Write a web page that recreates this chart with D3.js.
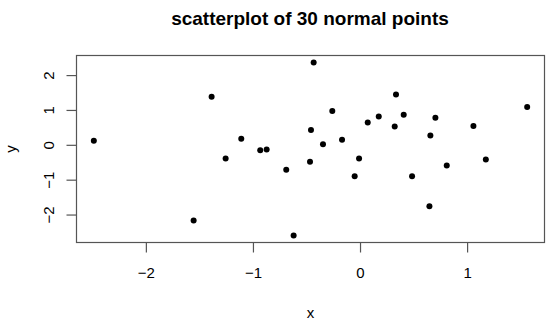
<!DOCTYPE html>
<html>
<head>
<meta charset="utf-8">
<script src="https://cdn.jsdelivr.net/npm/d3@7"></script>
<style>
  body { margin: 0; background: #fff; }
  text { font-family: "Liberation Sans", Arial, sans-serif; fill: #000; }
</style>
</head>
<body>
<script>
// 30 normal points
var xs = [-2.486, -1.386, -1.109, -1.255, -0.932, -0.872, -0.689, -1.554, -0.620,
          -0.433, -0.458, -0.467, -0.259, -0.346, -0.168, -0.009, -0.050, 0.072,
          0.175, 0.336, 0.324, 0.408, 0.486, 0.657, 0.704, 0.648, 0.810, 1.059,
          1.175, 1.561];
var ys = [0.115, 1.378, 0.172, -0.393, -0.153, -0.134, -0.718, -2.172, -2.603,
          2.363, 0.422, -0.488, 0.967, 0.019, 0.144, -0.393, -0.899, 0.641,
          0.814, 1.445, 0.526, 0.861, -0.899, 0.268, 0.775, -1.761, -0.594, 0.537,
          -0.422, 1.082];
var xTicks = [-2, -1, 0, 1];
var yTicks = [-2, -1, 0, 1, 2];

var width = 550, height = 321;
// plot box edges (window.top is taken, so prefix them)
var boxL = 76.5, boxR = 544.5, boxT = 55.5, boxB = 242.5;

var svg = d3.select("body").append("svg")
    .attr("width", width)
    .attr("height", height);

// R style: pad the data range by 4% on each side
function pad(ext) {
  var d = (ext[1] - ext[0]) * 0.04;
  return [ext[0] - d, ext[1] + d];
}

var x = d3.scaleLinear().domain(pad(d3.extent(xs))).range([boxL, boxR]);
var y = d3.scaleLinear().domain(pad(d3.extent(ys))).range([boxB, boxT]);

function minus(d) { return d < 0 ? "\u2212" + Math.abs(d) : d; }

// box
svg.append("rect")
    .attr("x", boxL).attr("y", boxT)
    .attr("width", boxR - boxL).attr("height", boxB - boxT)
    .attr("fill", "none").attr("stroke", "#555").attr("stroke-width", 1.2);

// x axis
var xAxis = d3.axisBottom(x).tickValues(xTicks).tickSize(10).tickPadding(15).tickFormat(minus);
var gx = svg.append("g").attr("transform", "translate(0," + boxB + ")").call(xAxis);
gx.select(".domain").remove();
gx.selectAll("line").attr("stroke", "#555").attr("stroke-width", 1.2);
gx.selectAll("text").style("font-size", "15px").style("font-family", "Liberation Sans, Arial, sans-serif");

// y axis, labels turned like R's las=0
var yAxis = d3.axisLeft(y).tickValues(yTicks).tickSize(10).tickPadding(0).tickFormat(minus);
var gy = svg.append("g").attr("transform", "translate(" + boxL + ",0)").call(yAxis);
gy.select(".domain").remove();
gy.selectAll("line").attr("stroke", "#555").attr("stroke-width", 1.2);
gy.selectAll("text")
    .style("font-size", "15px").style("font-family", "Liberation Sans, Arial, sans-serif")
    .attr("x", 0).attr("dy", null)
    .attr("text-anchor", "middle")
    .attr("transform", "translate(-23,0) rotate(-90)");

// points
svg.selectAll("circle.pt")
    .data(d3.range(xs.length))
    .enter().append("circle")
    .attr("class", "pt")
    .attr("cx", function(i) { return x(xs[i]); })
    .attr("cy", function(i) { return y(ys[i]); })
    .attr("r", 3)
    .attr("fill", "#000");

// title and axis names
svg.append("text").attr("x", (boxL + boxR) / 2 - 0.5).attr("y", 25)
    .attr("text-anchor", "middle").style("font-size", "19px").style("font-weight", "bold")
    .text("scatterplot of 30 normal points");
svg.append("text").attr("x", (boxL + boxR) / 2).attr("y", 318)
    .attr("text-anchor", "middle").style("font-size", "15px")
    .text("x");
svg.append("text")
    .attr("transform", "translate(16," + (boxT + boxB) / 2 + ") rotate(-90)")
    .attr("text-anchor", "middle").style("font-size", "15px")
    .text("y");
</script>
</body>
</html>
